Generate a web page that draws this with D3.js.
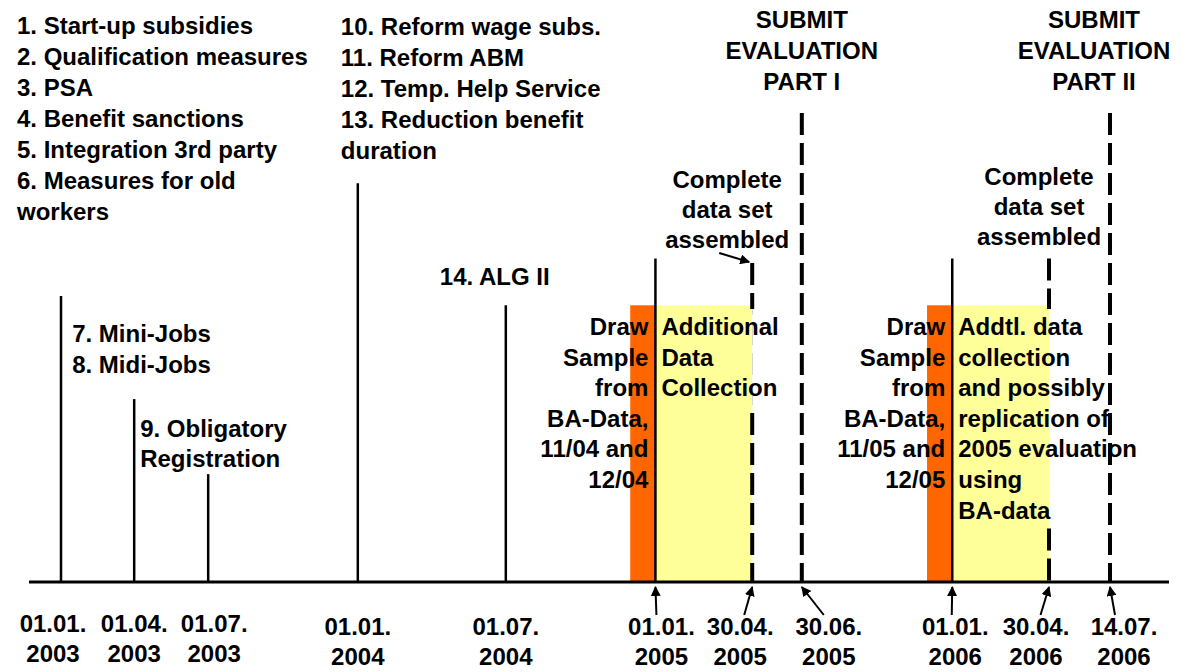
<!DOCTYPE html>
<html>
<head>
<meta charset="utf-8">
<script src="https://cdn.jsdelivr.net/npm/d3@7"></script>
<style>
  body { margin: 0; background: #fff; }
  svg { display: block; }
  svg text { font-family: 'Liberation Sans', Arial, sans-serif; font-weight: bold; font-size: 24px; fill: #000; }
</style>
</head>
<body>
<svg></svg>
<script>
// timeline data
const tickDates = ['2003-01-01', '2003-04-01', '2003-07-01', '2004-01-01', '2004-07-01',
                   '2005-01-01', '2005-04-30', '2005-06-30', '2006-01-01', '2006-04-30', '2006-07-14']
const tickDay = ['01.01.', '01.04.', '01.07.', '01.01.', '01.07.', '01.01.', '30.04.', '30.06.', '01.01.', '30.04.', '14.07.']
const tickYear = ['2003', '2003', '2003', '2004', '2004', '2005', '2005', '2005', '2006', '2006', '2006']

// reforms (solid lines), height in % of chart
const eventDates = ['2003-01-01', '2003-04-01', '2003-07-01', '2004-01-01', '2004-07-01', '2005-01-01', '2006-01-01']
const eventHeights = [61, 39, 23, 85, 59, 69, 69]

// deadlines (dashed lines)
const deadlineDates = ['2005-04-30', '2005-06-30', '2006-04-30', '2006-07-14']
const deadlineHeights = [68, 100, 69, 100]

// work periods
const sampleStart = ['2004-12-01', '2005-12-01']
const collectionStart = ['2005-01-01', '2006-01-01']
const collectionEnd = ['2005-04-30', '2006-04-30']
const periodHeight = 59

// texts
const reformsA = ['1. Start-up subsidies', '2. Qualification measures', '3. PSA', '4. Benefit sanctions',
                  '5. Integration 3rd party', '6. Measures for old', 'workers']
const reformsB = ['7. Mini-Jobs', '8. Midi-Jobs']
const reformsC = ['9. Obligatory', 'Registration']
const reformsD = ['10. Reform wage subs.', '11. Reform ABM', '12. Temp. Help Service', '13. Reduction benefit', 'duration']
const reformsE = ['14. ALG II']
const sampleText = [['Draw', 'Sample', 'from', 'BA-Data,', '11/04 and', '12/04'],
                    ['Draw', 'Sample', 'from', 'BA-Data,', '11/05 and', '12/05']]
const collectText = [['Additional', 'Data', 'Collection'],
                     ['Addtl. data', 'collection', 'and possibly', 'replication of', '2005 evaluation', 'using', 'BA-data']]
const completeText = ['Complete', 'data set', 'assembled']
const submitText = [['SUBMIT', 'EVALUATION', 'PART I'], ['SUBMIT', 'EVALUATION', 'PART II']]

const width = 1194
const height = 672
const parse = d3.timeParse('%Y-%m-%d')

let svg = d3.select('svg').attr('width', width).attr('height', height)

const xScale = d3.scaleTime()
    .domain(d3.extent(tickDates, parse))
    .range([61, 1110])
const yScale = d3.scaleLinear()
    .domain([0, 100])
    .range([582, 113])
const X = s => xScale(parse(s))

svg.append('defs').append('marker')
    .attr('id', 'arrow')
    .attr('viewBox', '0 0 10 10')
    .attr('refX', 9).attr('refY', 5)
    .attr('markerWidth', 10).attr('markerHeight', 10)
    .attr('markerUnits', 'userSpaceOnUse')
    .attr('orient', 'auto')
    .append('path').attr('d', 'M0,0L10,5L0,10Z').attr('fill', '#000')

function addText(lines, x, y, anchor, lh) {
    const g = svg.append('g').attr('transform', `translate(${x},${y})`)
    g.selectAll('text').data(lines).enter().append('text')
        .attr('y', (d, i) => i * lh)
        .attr('text-anchor', anchor)
        .text(d => d)
    return g
}

// periods
svg.selectAll('rect.sample').data(sampleStart).enter().append('rect')
    .attr('class', 'sample')
    .attr('x', d => X(d))
    .attr('y', yScale(periodHeight))
    .attr('width', (d, i) => X(collectionStart[i]) - X(d))
    .attr('height', yScale(0) - yScale(periodHeight))
    .attr('fill', '#FF6600')
svg.selectAll('rect.collect').data(collectionStart).enter().append('rect')
    .attr('class', 'collect')
    .attr('x', d => X(d))
    .attr('y', yScale(periodHeight))
    .attr('width', (d, i) => X(collectionEnd[i]) - X(d))
    .attr('height', yScale(0) - yScale(periodHeight))
    .attr('fill', '#FFFF99')

// dashed deadlines
svg.selectAll('line.deadline').data(deadlineDates).enter().append('line')
    .attr('x1', d => X(d)).attr('x2', d => X(d))
    .attr('y1', (d, i) => yScale(deadlineHeights[i]))
    .attr('y2', yScale(0))
    .attr('stroke', '#000').attr('stroke-width', 4)
    .attr('stroke-dasharray', '22,8')

// solid events
svg.selectAll('line.event').data(eventDates).enter().append('line')
    .attr('x1', d => X(d)).attr('x2', d => X(d))
    .attr('y1', (d, i) => yScale(eventHeights[i]))
    .attr('y2', yScale(0))
    .attr('stroke', '#000').attr('stroke-width', 2.5)

// baseline
svg.append('line')
    .attr('x1', xScale.range()[0] - 32).attr('x2', xScale.range()[1] + 59)
    .attr('y1', yScale(0)).attr('y2', yScale(0))
    .attr('stroke', '#000').attr('stroke-width', 3)

// text boxes hide the deadline line behind them
const covers = svg.append('g')

// reform texts
addText(reformsA, X(eventDates[0]) - 44, 34, 'start', 31)
addText(reformsB, X(eventDates[1]) - 62, 342, 'start', 31)
addText(reformsC, X(eventDates[2]) - 68, 437, 'start', 30)
addText(reformsD, X(eventDates[3]) - 17, 35, 'start', 31)
addText(reformsE, X(eventDates[4]) - 66, 285, 'start', 31)

// period texts
collectionStart.forEach((d, i) => {
    addText(sampleText[i], X(d) - 7, 335, 'end', 30.6)
    const g = addText(collectText[i], X(d) + 6, 335, 'start', 30.6)
    const box = g.node().getBoundingClientRect()
    const xe = X(collectionEnd[i])
    covers.append('rect')
        .attr('x', xe - 3).attr('width', 3)
        .attr('y', box.top - 4).attr('height', box.height + 8)
        .attr('fill', '#FFFF99')
    covers.append('rect')
        .attr('x', xe).attr('width', 3)
        .attr('y', box.top - 4).attr('height', box.height + 8)
        .attr('fill', '#fff')
})

// complete data set
addText(completeText, X(collectionEnd[0]) - 25, 188, 'middle', 30)
addText(completeText, X(collectionEnd[1]) - 10, 185, 'middle', 30)
svg.append('line')
    .attr('x1', X(collectionEnd[0]) - 33).attr('y1', 253)
    .attr('x2', X(collectionEnd[0]) - 3).attr('y2', 262)
    .attr('stroke', '#000').attr('stroke-width', 2)
    .attr('marker-end', 'url(#arrow)')

// submit
addText(submitText[0], X(deadlineDates[1]), 28, 'middle', 31)
addText(submitText[1], X(deadlineDates[3]) - 16, 28, 'middle', 31)

// tick labels
const nudge = [-8, 0, 6, 0, 0, 6, -12, 27, 3, -13, 14]
tickDates.forEach((d, i) => {
    const lx = X(d) + nudge[i]
    addText([tickDay[i], tickYear[i]], lx, i < 3 ? 632 : 635, 'middle', 30)
    if (i >= 5) {
        svg.append('line')
            .attr('x1', i === 7 ? lx - 5 : (X(d) + lx) / 2 - 2).attr('y1', 615)
            .attr('x2', X(d)).attr('y2', 587)
            .attr('stroke', '#000').attr('stroke-width', 2)
            .attr('marker-end', 'url(#arrow)')
    }
})
</script>
</body>
</html>
